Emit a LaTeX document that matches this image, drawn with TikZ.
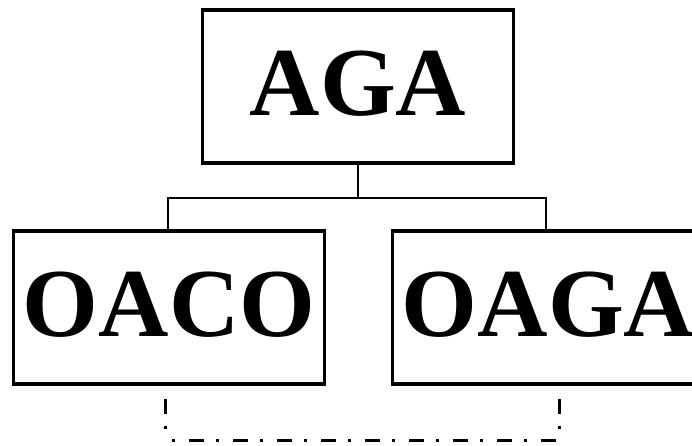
\documentclass[tikz,border=0pt]{standalone}
\usepackage{fontspec}
\setmainfont{Liberation Serif}
\usetikzlibrary{calc}
\begin{document}
\begin{tikzpicture}[x=1pt,y=-1pt,
  orgbox/.style={draw,line width=3.5pt,inner sep=0pt,minimum width=311pt,
    minimum height=153pt,text depth=6pt,
    font=\fontsize{97.5}{100}\selectfont\bfseries},
  tree/.style={line width=2.3pt},
  dashdot/.style={line width=3pt,dash pattern=on 15pt off 12pt on 3pt off 14pt}]
\useasboundingbox (0,0) rectangle (692,445);
\begin{scope}
\clip (0,0) rectangle (692,445);
% boxes
\node[orgbox] (aga)  at (358,86.5)  {AGA};
\node[orgbox] (oaco) at (169,307.5) {OACO};
\node[orgbox] (oaga) at (548,307.5) {OAGA};
\end{scope}
% tree connector
\coordinate (busL) at (168,198);
\coordinate (busR) at (546,198);
\draw[tree] (aga.south) -- (aga.south |- busL);
\draw[tree,line cap=rect] (busL) -- (busR);
\draw[tree] (busL) -- (busL |- oaco.north);
\draw[tree] (busR) -- (busR |- oaga.north);
% dash-dot link between the two lower boxes
\coordinate (dl) at ($(oaco.south)+(-4,13)$);
\coordinate (dr) at ($(oaga.south)+(11,13)$);
\coordinate (base) at (0,440);
\draw[dashdot] (dl) -- (dl |- base);
\draw[dashdot] (dr) -- (dr |- base);
\draw[dashdot,dash phase=20pt] (dl |- base) -- (dr |- base);
\end{tikzpicture}
\end{document}
